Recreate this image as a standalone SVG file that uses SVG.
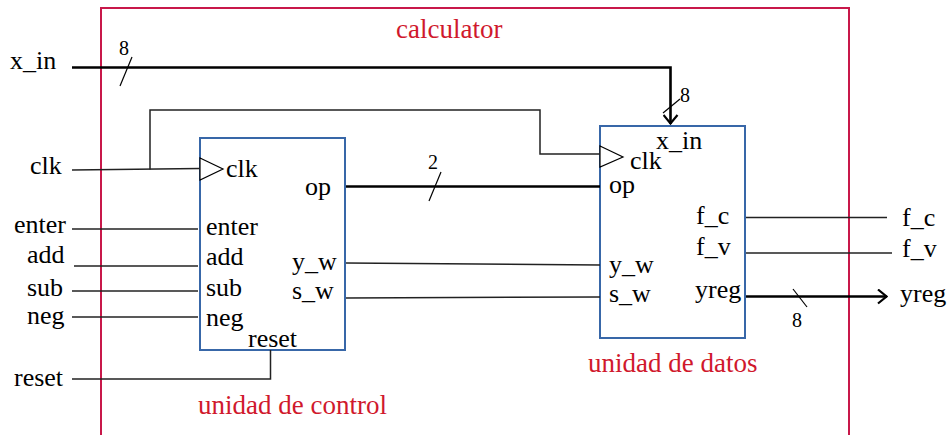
<svg xmlns="http://www.w3.org/2000/svg" width="952" height="435" viewBox="0 0 952 435">
<style>
text{font-family:"Liberation Serif","Times New Roman",serif;font-size:26px;fill:#000}
.red{fill:#d0182c;font-size:27px}
.small{font-size:20px}
.w{fill:none;stroke:#222;stroke-width:1.5}
.bus{fill:none;stroke:#000;stroke-width:2.6}
.tk{fill:none;stroke:#000;stroke-width:1.2}
.box{fill:#fff;stroke:#3867a8;stroke-width:2}
.tri{fill:#fff;stroke:#000;stroke-width:1.2}
</style>
<defs>
<marker id="chev" viewBox="0 0 12 16" refX="11" refY="8" markerWidth="12" markerHeight="16" markerUnits="userSpaceOnUse" orient="auto"><path d="M2,1 L10.5,8 L2,15" fill="none" stroke="#000" stroke-width="2.2"/></marker>
</defs>
<g id="calculator">
<rect x="101" y="8" width="748" height="440" fill="none" stroke="#c8184a" stroke-width="2"/>
<text class="red" x="396" y="38">calculator</text>
</g>
<g id="unidad_de_control">
<rect class="box" x="200" y="138" width="145" height="212"/>
<polygon class="tri" points="200,158 223,169 200,180"/>
<text x="226" y="177">clk</text>
<text x="206" y="235">enter</text>
<text x="206" y="265">add</text>
<text x="206" y="296">sub</text>
<text x="206" y="326">neg</text>
<text x="248" y="347">reset</text>
<text x="305" y="195">op</text>
<text x="292" y="270">y_w</text>
<text x="292" y="299">s_w</text>
<text class="red" x="198" y="414">unidad de control</text>
</g>
<g id="unidad_de_datos">
<rect class="box" x="600" y="126" width="145" height="212"/>
<polygon class="tri" points="600,146 623,157 600,167"/>
<text x="656" y="149">x_in</text>
<text x="630" y="169">clk</text>
<text x="609" y="193">op</text>
<text x="609" y="273">y_w</text>
<text x="609" y="302">s_w</text>
<text x="696" y="224">f_c</text>
<text x="696" y="255">f_v</text>
<text x="695" y="298">yreg</text>
<text class="red" x="588" y="372">unidad de datos</text>
</g>
<g id="inputs">
<text x="10" y="69">x_in</text>
<text x="30" y="174">clk</text>
<text x="14" y="233">enter</text>
<text x="27" y="263">add</text>
<text x="27" y="296">sub</text>
<text x="27" y="324">neg</text>
<text x="14" y="386">reset</text>
</g>
<g id="outputs">
<text x="902" y="226">f_c</text>
<text x="902" y="257">f_v</text>
<text x="900" y="302">yreg</text>
</g>
<g id="connectors">
<path class="bus" d="M72,67.5 H670.5 V124" marker-end="url(#chev)"/>
<path class="tk" d="M120,86 L132,57"/>
<text class="small" x="119" y="55">8</text>
<path class="tk" d="M663,113 L680,99"/>
<text class="small" x="680" y="102">8</text>
<path class="w" d="M72,170 L200,168.5"/>
<path class="w" d="M150,169.5 V110 H540 V154 H600"/>
<path class="w" d="M72,229 H198"/>
<path class="w" d="M74,266 H198"/>
<path class="w" d="M72,291 H198"/>
<path class="w" d="M72,317 H198"/>
<path class="w" d="M72,379 H270.5 V350"/>
<path class="bus" d="M346,186.5 H600"/>
<path class="tk" d="M429,201 L441,172"/>
<text class="small" x="428" y="169">2</text>
<path class="w" d="M346,263 L600,265"/>
<path class="w" d="M346,298 L600,297"/>
<path class="w" d="M746,217.5 H887"/>
<path class="w" d="M746,253 H892"/>
<path class="bus" d="M746,296.5 H887" marker-end="url(#chev)"/>
<path class="tk" d="M793,289 L807,307"/>
<text class="small" x="792" y="327">8</text>
</g>
</svg>
